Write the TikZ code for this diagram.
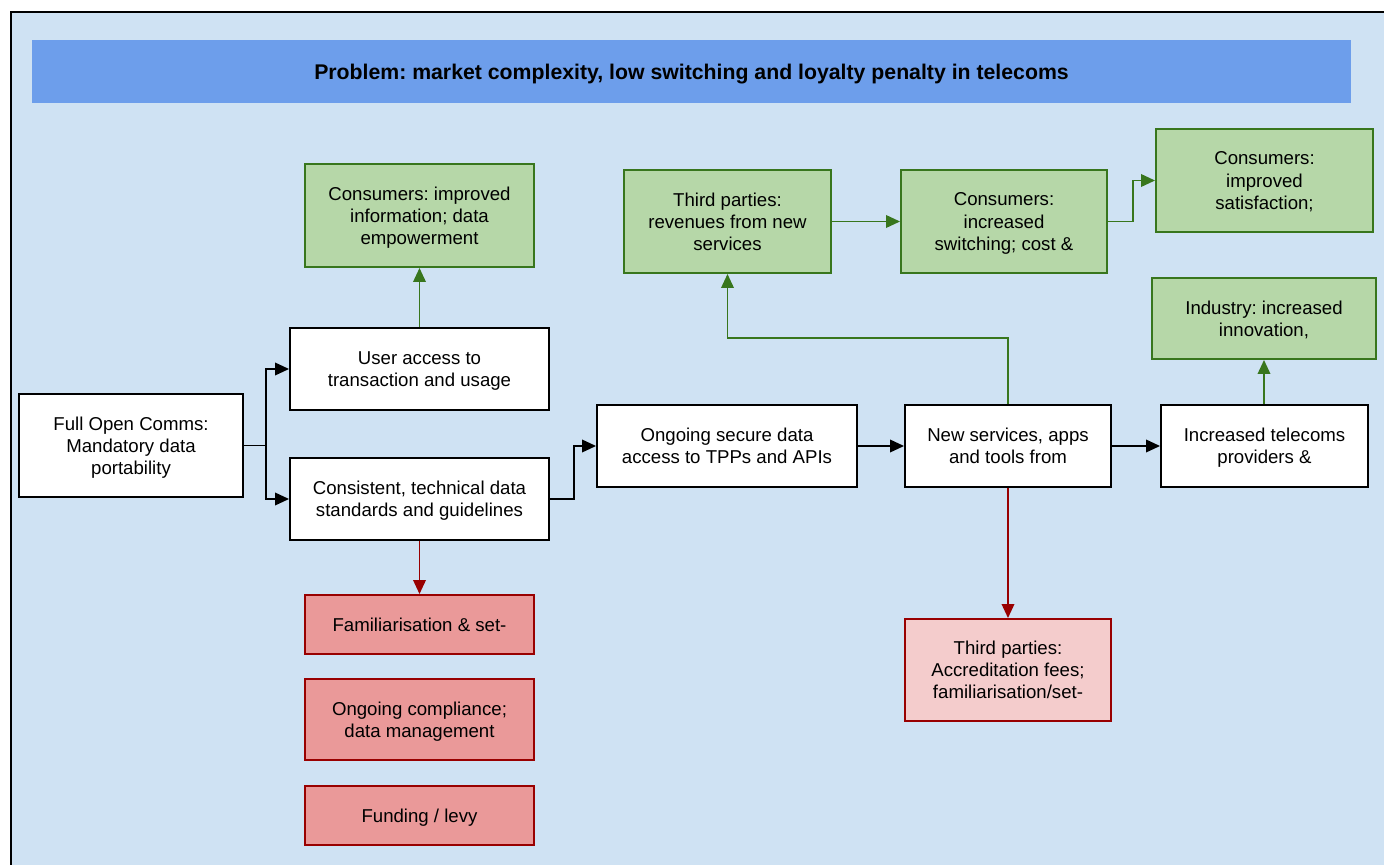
\documentclass[tikz,border=0pt]{standalone}
\usepackage{fontspec}
\setmainfont{Liberation Sans}
\frenchspacing
\usetikzlibrary{arrows.meta, positioning}
\definecolor{cback}{HTML}{CFE2F3}
\definecolor{ctitle}{HTML}{6D9EEB}
\definecolor{cgreen}{HTML}{38761D}
\definecolor{cgreenfill}{HTML}{B6D7A8}
\definecolor{cred}{HTML}{990000}
\definecolor{credfill}{HTML}{EA9999}
\definecolor{cpink}{HTML}{F4CCCC}
\tikzset{
  every picture/.style={x=0.02cm, y=-0.02cm, line width=1.1pt},
  every node/.style={font=\fontsize{10.6}{12.6}\selectfont},
  box/.style={draw=black, fill=white, align=center, inner sep=2pt, text depth=0pt},
  gbox/.style={box, draw=cgreen, fill=cgreenfill},
  rbox/.style={box, draw=cred, fill=credfill},
  pbox/.style={box, draw=cred, fill=cpink},
  arrow/.style={-{Triangle[length=2.8mm, width=2.5mm]}, draw=black},
  garrow/.style={arrow, draw=cgreen},
  rarrow/.style={arrow, draw=cred},
}

\begin{document}
\begin{tikzpicture}
  \useasboundingbox (0,0) rectangle (1384,865);
  \clip (0,0) rectangle (1384,865);
  % frame
  \draw[fill=cback, line width=0.9pt] (11,12) rectangle (1400,880);
  % title
  \node[fill=ctitle, minimum width=26.38cm, minimum height=1.26cm, text depth=0pt, font=\fontsize{12.1}{14}\selectfont\bfseries] (title) at (691.5,71.5)
    {Problem: market complexity, low switching and loyalty penalty in telecoms};
  % main chain
  \node[box, minimum width=4.48cm, minimum height=2.06cm] (full) at (131,445.5) {Full Open Comms:\\Mandatory data\\portability};
  \node[box, minimum width=5.18cm, minimum height=1.64cm] (user) at (419.5,369) {User access to\\transaction and usage};
  \node[box, minimum width=5.18cm, minimum height=1.64cm] (cons) at (419.5,499) {Consistent, technical data\\standards and guidelines};
  \node[box, minimum width=5.2cm, minimum height=1.64cm] (secure) at (727,446) {Ongoing secure data\\access to TPPs and APIs};
  \node[box, minimum width=4.12cm, minimum height=1.64cm] (newsrv) at (1008,446) {New services, apps\\and tools from};
  \node[box, minimum width=4.14cm, minimum height=1.64cm] (telco) at (1264.5,446) {Increased telecoms\\providers \&};
  % benefits
  \node[gbox, minimum width=4.58cm, minimum height=2.06cm] (info) at (419.5,215.5) {Consumers: improved\\information; data\\empowerment};
  \node[gbox, minimum width=4.14cm, minimum height=2.06cm] (rev) at (727.5,221.5) {Third parties:\\revenues from new\\services};
  \node[gbox, minimum width=4.12cm, minimum height=2.06cm] (switch) at (1004,221.5) {Consumers:\\increased\\switching; cost \&};
  \node[gbox, minimum width=4.34cm, minimum height=2.06cm] (satis) at (1264.5,180.5) {Consumers:\\improved\\satisfaction;};
  \node[gbox, minimum width=4.48cm, minimum height=1.62cm] (innov) at (1264,318.5) {Industry: increased\\innovation,};
  % costs
  \node[rbox, minimum width=4.58cm, minimum height=1.18cm] (fam) at (419.5,624.5) {Familiarisation \& set-};
  \node[rbox, minimum width=4.58cm, minimum height=1.62cm] (comp) at (419.5,719.5) {Ongoing compliance;\\data management};
  \node[rbox, minimum width=4.58cm, minimum height=1.18cm] (levy) at (419.5,815.5) {Funding / levy};
  \node[pbox, minimum width=4.12cm, minimum height=2.04cm] (accr) at (1008,670) {Third parties:\\Accreditation fees;\\familiarisation/set-};
  % connectors
  \coordinate (split) at (266,445.5);
  \draw (full.east) -- (split);
  \draw[arrow] (split) |- (user.west);
  \draw[arrow] (split) |- (cons.west);
  \draw[arrow] (cons.east) -- ++(24,0) |- (secure.west);
  \draw[arrow] (secure) -- (newsrv);
  \draw[arrow] (newsrv) -- (telco);
  \draw[garrow] (user) -- (info);
  \draw[garrow] (newsrv.north) -- ++(0,-66) -| (rev.south);
  \draw[garrow] (rev) -- (switch);
  \draw[garrow] (switch.east) -- ++(25,0) |- (satis.west);
  \draw[garrow] (telco.north -| innov.south) -- (innov.south);
  \draw[rarrow] (cons) -- (fam);
  \draw[rarrow] (newsrv) -- (accr);
\end{tikzpicture}
\end{document}
